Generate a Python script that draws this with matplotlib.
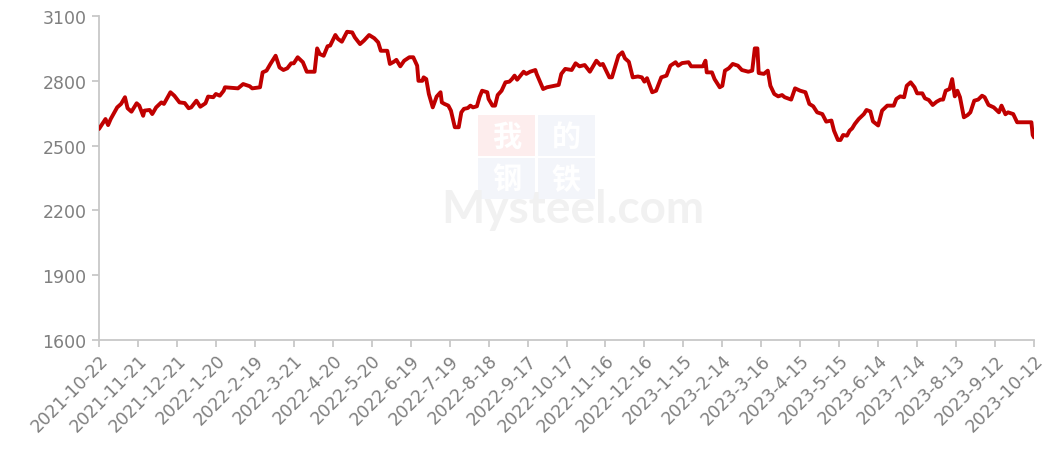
import matplotlib
matplotlib.use("Agg")
import matplotlib.pyplot as plt
from matplotlib.patches import Rectangle
import pandas as pd

start_date = "2021-10-22"
# days since start date and price values
day_offsets = [0, 5, 7, 9, 14, 17, 20, 22, 25, 29, 31, 34, 35, 39, 41, 44, 48, 50, 55, 58,
               62, 66, 69, 71, 75, 78, 82, 84, 88, 90, 93, 96, 97, 107, 111, 116, 118, 124, 126, 129,
               132, 136, 139, 142, 145, 148, 150, 153, 157, 160, 166, 168, 170, 173, 176, 178, 182, 184, 187, 191,
               195, 197, 201, 204, 208, 212, 215, 217, 222, 224, 227, 229, 232, 235, 239, 242, 245, 246, 249, 250,
               252, 254, 257, 260, 263, 264, 266, 269, 271, 274, 277, 279, 281, 284, 286, 288, 291, 293, 295, 299,
               300, 303, 305, 307, 310, 313, 316, 318, 320, 322, 327, 329, 332, 336, 337, 342, 345, 354, 356, 359,
               364, 367, 370, 374, 378, 383, 386, 388, 393, 395, 400, 403, 405, 408, 411, 415, 418, 420, 422, 426,
               429, 433, 437, 440, 444, 446, 449, 454, 456, 465, 467, 468, 472, 474, 478, 480, 482, 485, 488, 492,
               495, 500, 503, 505, 507, 508, 512, 515, 517, 520, 523, 526, 528, 533, 536, 540, 544, 547, 550, 553,
               557, 560, 564, 566, 569, 571, 573, 576, 578, 580, 582, 585, 589, 591, 594, 596, 600, 603, 607, 612,
               614, 617, 620, 622, 625, 628, 630, 634, 636, 639, 642, 645, 648, 650, 652, 655, 657, 659, 661, 663,
               666, 669, 671, 674, 677, 680, 682, 685, 689, 693, 695, 698, 700, 704, 707, 718, 719, 720]
prices = [2577, 2623, 2595, 2623, 2677, 2693, 2724, 2673, 2657, 2696, 2685, 2638, 2662, 2665, 2646, 2677, 2700, 2693, 2747, 2731,
          2700, 2697, 2673, 2677, 2708, 2680, 2696, 2727, 2724, 2739, 2731, 2754, 2770, 2765, 2785, 2775, 2765, 2770, 2839, 2847,
          2878, 2916, 2862, 2850, 2858, 2881, 2881, 2909, 2886, 2842, 2842, 2950, 2924, 2916, 2960, 2963, 3012, 2994, 2981, 3027,
          3024, 3001, 2970, 2986, 3012, 2997, 2978, 2939, 2939, 2878, 2888, 2897, 2867, 2893, 2909, 2909, 2870, 2800, 2800, 2816,
          2808, 2739, 2677, 2727, 2747, 2700, 2693, 2685, 2662, 2585, 2585, 2654, 2670, 2674, 2685, 2677, 2682, 2724, 2754, 2747,
          2716, 2685, 2685, 2734, 2754, 2793, 2796, 2808, 2824, 2805, 2842, 2832, 2842, 2850, 2832, 2762, 2770, 2781, 2832, 2855,
          2850, 2881, 2867, 2873, 2842, 2893, 2873, 2878, 2816, 2816, 2916, 2932, 2904, 2888, 2816, 2820, 2816, 2796, 2812, 2747,
          2754, 2816, 2824, 2870, 2886, 2870, 2882, 2886, 2867, 2867, 2893, 2839, 2839, 2808, 2770, 2777, 2847, 2858, 2878, 2870,
          2850, 2842, 2847, 2950, 2950, 2836, 2832, 2847, 2777, 2739, 2728, 2734, 2724, 2713, 2765, 2754, 2747, 2693, 2682, 2654,
          2646, 2611, 2616, 2569, 2526, 2526, 2549, 2546, 2569, 2580, 2600, 2623, 2646, 2665, 2658, 2612, 2593, 2662, 2685, 2685,
          2716, 2728, 2724, 2777, 2793, 2770, 2742, 2742, 2719, 2711, 2688, 2703, 2713, 2713, 2754, 2762, 2808, 2728, 2754, 2724,
          2631, 2642, 2654, 2708, 2713, 2731, 2724, 2688, 2677, 2654, 2685, 2645, 2654, 2646, 2608, 2608, 2549, 2538]

y_ticks = [1600, 1900, 2200, 2500, 2800, 3100]
tick_interval_days = 30
n_x_ticks = 25

dates = pd.to_datetime(start_date) + pd.to_timedelta(day_offsets, unit="D")
tick_dates = pd.to_datetime(start_date) + pd.to_timedelta([i * tick_interval_days for i in range(n_x_ticks)], unit="D")
tick_labels = [f"{d.year}-{d.month}-{d.day}" for d in tick_dates]

W, H = 1045, 452
fig = plt.figure(figsize=(W / 100, H / 100), dpi=100)
fig.patch.set_facecolor("white")

def fx(px):
    return px / W

def fy(py):
    return 1 - py / H

# watermark
tiles = [(478, 116, "我", "#fdeded"), (538, 116, "的", "#f3f5fa"),
         (478, 159, "钢", "#f3f5fa"), (538, 159, "铁", "#f3f5fa")]
for tx, ty, ch, col in tiles:
    fig.add_artist(Rectangle((fx(tx), fy(ty + 41)), 57 / W, 41 / H, transform=fig.transFigure,
                             facecolor=col, edgecolor="none", zorder=0))
    fig.text(fx(tx + 28.5), fy(ty + 20.5), ch, fontsize=21, color="white", ha="center", va="center",
             family=["Noto Sans CJK SC"], fontweight="bold", zorder=0.5)
fig.text(fx(573), fy(223), "Mysteel.com", fontsize=33, color="#f1f1f1", ha="center", va="baseline",
         family=["Lato", "DejaVu Sans"], fontweight="bold", zorder=0.5)

ax = fig.add_axes([fx(99), fy(341), (1034 - 99) / W, (341 - 17) / H])
ax.patch.set_alpha(0)
ax.plot(dates, prices, color="#C00000", linewidth=2.8, solid_joinstyle="round",
        solid_capstyle="round", zorder=3)

ax.set_ylim(1600, 3100)
ax.set_yticks(y_ticks)
ax.set_xlim(tick_dates[0], tick_dates[-1])
ax.set_xticks(tick_dates)
ax.set_xticklabels(tick_labels, rotation=45, ha="right", va="top", rotation_mode="anchor")

for s in ["top", "right"]:
    ax.spines[s].set_visible(False)
for s in ["left", "bottom"]:
    ax.spines[s].set_color("#c8c8c8")
    ax.spines[s].set_linewidth(1.3)

ax.tick_params(axis="both", colors="#c8c8c8", labelcolor="#7f7f7f", labelsize=12.5,
               length=5, width=1.3, direction="out")
ax.tick_params(axis="y", pad=4)
ax.tick_params(axis="x", pad=3)

fig.savefig("out.png", dpi=100, facecolor="white")
